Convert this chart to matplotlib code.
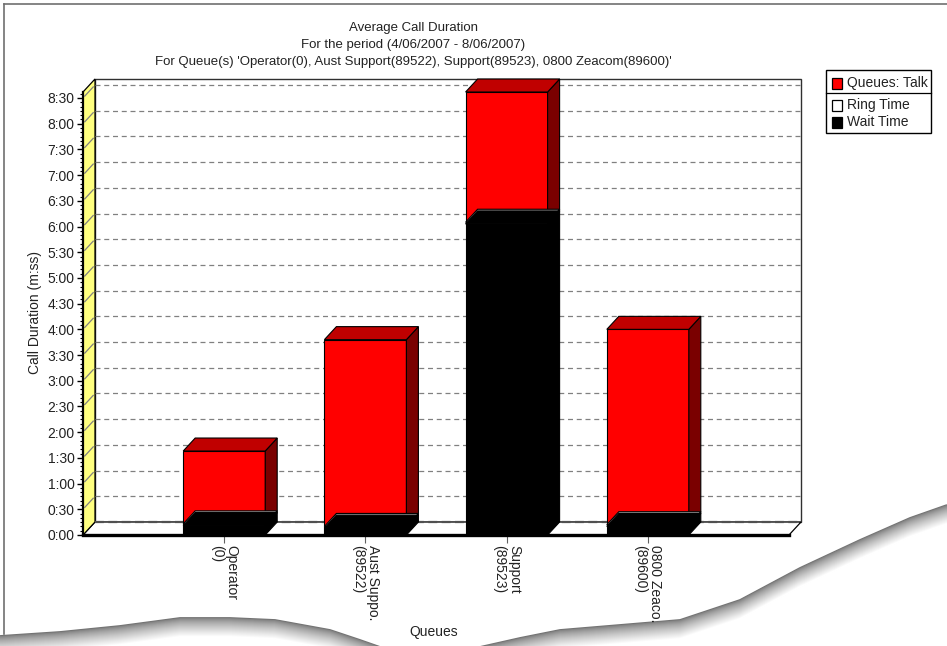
import matplotlib
matplotlib.use("Agg")
import matplotlib.pyplot as plt
from matplotlib.patches import Polygon, Rectangle
from matplotlib.ticker import FuncFormatter, MultipleLocator
import numpy as np

# ---------------- data ----------------
queues = ["Operator\n(0)", "Aust Suppo.\n(89522)", "Support\n(89523)", "0800 Zeaco.\n(89600)"]
wait_time = [11, 8, 363, 10]      # seconds
ring_time = [2, 2, 2, 2]          # seconds
talk_time = [85, 218, 152, 228]   # seconds
title_lines = ["Average Call Duration",
               "For the period (4/06/2007 - 8/06/2007)",
               "For Queue(s) 'Operator(0), Aust Support(89522), Support(89523), 0800 Zeacom(89600)'"]
legend_labels = ["Queues: Talk", "Ring Time", "Wait Time"]
y_label = "Call Duration (m:ss)"
x_label = "Queues"

# ---------------- figure ----------------
plt.rcParams['font.family'] = ['Liberation Sans', 'DejaVu Sans']
W, H = 947, 646
fig = plt.figure(figsize=(W / 100, H / 100), dpi=100)
fig.patch.set_facecolor('white')
TXT = '#222222'

def rect_px(x0, y0, x1, y1):
    return [x0 / W, 1 - y1 / H, (x1 - x0) / W, (y1 - y0) / H]

# overlay for page decorations (pixel coords)
deco = fig.add_axes([0, 0, 1, 1], zorder=0)
deco.set_xlim(0, W)
deco.set_ylim(H, 0)
deco.axis('off')
deco.plot([4, W], [4, 4], color='#707070', lw=1.2)
deco.plot([4, 4], [4, 634], color='#707070', lw=1.2)
left_edge = np.array([(0, 636), (60, 632), (120, 626), (180, 618), (230, 618), (275, 620),
                      (330, 630), (360, 640), (380, 647)])
right_edge = np.array([(480, 647), (520, 638), (560, 630), (620, 625), (680, 620), (740, 600),
                       (800, 568), (860, 540), (910, 518), (947, 505)])
for edge in (left_edge, right_edge):
    deco.fill_between(edge[:, 0], edge[:, 1], H + 5, color='white', zorder=1)
    for k in range(20):
        c = 0.45 + 0.55 * (k / 19) ** 0.7
        deco.plot(edge[:, 0], edge[:, 1] + k, color=(c, c, c), lw=1.3, zorder=2,
                  solid_capstyle='butt')

# main axes (front plane)
ax = fig.add_axes(rect_px(83, 92, 789, 535), zorder=2)
ax.set_facecolor('none')
n = len(queues)
totals = [w + r + t for w, r, t in zip(wait_time, ring_time, talk_time)]
xmin, xmax = -1, n
ymax = max(totals)
ax.set_xlim(xmin, xmax)
ax.set_ylim(0, ymax)

ax_w_px, ax_h_px = 789 - 83, 535 - 92
dx = 12 / (ax_w_px / (xmax - xmin))
dy = 13 / (ax_h_px / ymax)
bw = 82 / (ax_w_px / (xmax - xmin))

# back wall
ax.add_patch(Rectangle((xmin + dx, dy), xmax - xmin, ymax, facecolor='white',
                       edgecolor='#303030', lw=1.0, clip_on=False, zorder=0))
# floor
ax.add_patch(Polygon([(xmin, 0), (xmax, 0), (xmax + dx, dy), (xmin + dx, dy)], closed=True,
                     facecolor='white', edgecolor='black', lw=0.9, clip_on=False, zorder=1))
# left wall
ax.add_patch(Polygon([(xmin, 0), (xmin + dx, dy), (xmin + dx, ymax + dy), (xmin, ymax)], closed=True,
                     facecolor='#FFFF80', edgecolor='black', lw=0.9, clip_on=False, zorder=1))
# gridlines
for yv in range(30, int(ymax) + 1, 30):
    ax.plot([xmin + dx, xmax + dx], [yv + dy, yv + dy], color='#808080', lw=0.9,
            dashes=(4, 3), clip_on=False, zorder=1.5)
    ax.plot([xmin + 0.15 * dx, xmin + 0.85 * dx], [yv + 0.15 * dy, yv + 0.85 * dy],
            color='#808080', lw=0.9, clip_on=False, zorder=1.5)
ax.plot([xmin + dx, xmax + dx], [dy, dy], color='#505050', lw=1.6, dashes=(4, 2),
        clip_on=False, zorder=1.6)

# bars (3D-ish stacked)
palette = {
    'talk': ('#FF0000', '#7A0000', '#C00000'),
    'ring': ('#FFFFFF', '#808080', '#B8B8B8'),
    'wait': ('#000000', '#000000', '#000000'),
}
z = 3
for i in range(n):
    x0, x1 = i - bw / 2, i + bw / 2
    segs = [(wait_time[i] + ring_time[i], talk_time[i], palette['talk']),
            (wait_time[i], ring_time[i], palette['ring']),
            (0, wait_time[i], palette['wait'])]
    for bottom, h, (cf, cs, ct) in segs:
        top = bottom + h
        ax.bar(i, h, bw, bottom=bottom, color=cf, edgecolor='black', lw=0.8, zorder=z)
        ax.add_patch(Polygon([(x1, bottom), (x1 + dx, bottom + dy), (x1 + dx, top + dy), (x1, top)],
                             closed=True, facecolor=cs, edgecolor='black', lw=0.8,
                             clip_on=False, zorder=z))
        ax.add_patch(Polygon([(x0, top), (x1, top), (x1 + dx, top + dy), (x0 + dx, top + dy)],
                             closed=True, facecolor=ct, edgecolor='black', lw=0.8,
                             clip_on=False, zorder=z))
        z += 1

# spines & ticks
for s in ('top', 'right'):
    ax.spines[s].set_visible(False)
ax.spines['left'].set_linewidth(1.6)
ax.spines['bottom'].set_linewidth(2.4)
ax.spines['left'].set_zorder(50)
ax.spines['bottom'].set_zorder(50)

ax.yaxis.set_major_locator(MultipleLocator(30))
ax.yaxis.set_minor_locator(MultipleLocator(5))
ax.yaxis.set_major_formatter(FuncFormatter(lambda v, p: f"{int(v) // 60}:{int(v) % 60:02d}"))
ax.tick_params(axis='y', which='major', length=4, width=1, pad=2, labelsize=10,
               labelcolor=TXT)
ax.tick_params(axis='y', which='minor', length=2, width=0.8)
ax.set_xticks(range(n))
ax.set_xticklabels(queues, rotation=-90, ha='center', va='top', multialignment='left',
                   linespacing=1.05)
ax.tick_params(axis='x', length=6, width=0.8, color='#606060', pad=1, labelsize=10,
               labelcolor=TXT)

# labels & titles
fig.text(35 / W, 1 - 312 / H, y_label, rotation=90, ha='center', va='center', fontsize=10,
         color=TXT)
fig.text(434 / W, 1 - 632 / H, x_label, ha='center', va='center', fontsize=10, color=TXT)
for k, line in enumerate(title_lines):
    fig.text(413 / W, 1 - (28 + 17 * k) / H, line, ha='center', va='center', fontsize=9.5,
             color=TXT)

# legend (manual box)
leg = fig.add_axes([0, 0, 1, 1], zorder=3)
leg.set_xlim(0, W)
leg.set_ylim(H, 0)
leg.axis('off')
leg.add_patch(Rectangle((826, 70), 105, 63, facecolor='white', edgecolor='black', lw=1.0))
leg.plot([826, 931], [93, 93], color='black', lw=0.9)
rows = [(83, '#FF0000'), (105.5, '#FFFFFF'), (122.5, '#000000')]
for (yc, col), lab in zip(rows, legend_labels):
    leg.add_patch(Rectangle((832, yc - 5.5), 10, 11, facecolor=col, edgecolor='black', lw=0.9))
    leg.text(847, yc, lab, ha='left', va='center', fontsize=10, color=TXT)

fig.savefig("out.png", dpi=100, facecolor='white')
